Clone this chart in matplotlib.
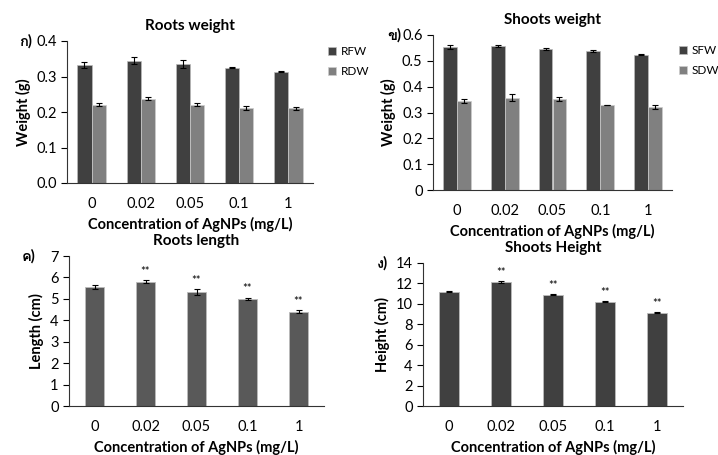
import numpy as np
import matplotlib
matplotlib.use("Agg")
import matplotlib.pyplot as plt
from matplotlib import font_manager
from matplotlib.ft2font import FT2Font

# look for any installed font that has Thai glyphs
thai_font = None
for f in font_manager.fontManager.ttflist:
    try:
        if FT2Font(f.fname).get_char_index(ord('ก')):
            thai_font = f.name
            break
    except Exception:
        pass

fams = ['Lato', 'DejaVu Sans']
if thai_font:
    fams = ['Lato', thai_font, 'DejaVu Sans']
plt.rcParams['font.family'] = fams

conc = ['0', '0.02', '0.05', '0.1', '1']

# roots weight
rfw = [0.333, 0.345, 0.335, 0.325, 0.314]
rfw_err = [0.008, 0.010, 0.012, 0.002, 0.002]
rdw = [0.221, 0.238, 0.221, 0.212, 0.210]
rdw_err = [0.005, 0.003, 0.004, 0.005, 0.004]

# shoots weight
sfw = [0.553, 0.558, 0.545, 0.538, 0.523]
sfw_err = [0.007, 0.003, 0.003, 0.003, 0.002]
sdw = [0.345, 0.358, 0.352, 0.329, 0.320]
sdw_err = [0.009, 0.012, 0.009, 0.001, 0.008]

# roots length / shoots height
rlen = [5.55, 5.80, 5.32, 5.00, 4.40]
rlen_err = [0.10, 0.07, 0.12, 0.06, 0.07]
sh = [11.2, 12.1, 10.9, 10.2, 9.15]
sh_err = [0.06, 0.10, 0.08, 0.06, 0.07]
stars = ['', '**', '**', '**', '**']

dark = '#404040'
light = '#808080'
mid = '#595959'

fig = plt.figure(figsize=(7.18, 4.55), dpi=100)
W, H = 718, 455


def make_ax(l, t, r, b):
    return fig.add_axes([l / W, 1 - b / H, (r - l) / W, (b - t) / H])


def style(ax, title, ylabel, letter, lx, ylim, ticks, fmt):
    ax.set_xlim(-0.5, 4.5)
    ax.set_ylim(*ylim)
    ax.set_yticks(ticks)
    ax.set_yticklabels([fmt.format(t) for t in ticks])
    ax.set_xticks(np.arange(5))
    ax.set_xticklabels(conc)
    ax.tick_params(axis='x', length=0, pad=10, labelsize=10.5)
    ax.tick_params(axis='y', length=4, direction='out', labelsize=10.5, width=0.8)
    for s in ['top', 'right']:
        ax.spines[s].set_visible(False)
    ax.spines['left'].set_color('#333333')
    ax.spines['bottom'].set_color('#333333')
    ax.set_title(title, fontweight='bold', fontsize=11, pad=8)
    ax.set_ylabel(ylabel, fontweight='bold', fontsize=10.5)
    ax.set_xlabel('Concentration of AgNPs (mg/L)', fontweight='bold', fontsize=10.5, labelpad=4)
    ax.text(lx, 1.0, letter, transform=ax.transAxes, fontsize=10.5, fontweight='bold',
            ha='center', va='center')


ek = dict(ecolor='black', capsize=2, elinewidth=0.8, capthick=0.8)
x = np.arange(5)
bw = 0.29
leg_kw = dict(loc='upper left', frameon=False, fontsize=8.5, borderpad=0, borderaxespad=0,
              handlelength=0.7, handleheight=0.7, handletextpad=0.35, labelspacing=0.75)

# A
ax = make_ax(67, 41, 313, 183)
ax.bar(x - bw / 2, rfw, bw, yerr=rfw_err, color=dark, edgecolor='#bbbbbb', linewidth=0.5, label='RFW', error_kw=ek)
ax.bar(x + bw / 2, rdw, bw, yerr=rdw_err, color=light, edgecolor='#cccccc', linewidth=0.5, label='RDW', error_kw=ek)
style(ax, 'Roots weight', 'Weight (g)', 'ก)', -0.17, (0, 0.4), [0, 0.1, 0.2, 0.3, 0.4], '{:.1f}')
ax.legend(bbox_to_anchor=(1.061, 0.965), **leg_kw)

# B
ax = make_ax(433, 35, 672, 190)
ax.bar(x - bw / 2, sfw, bw, yerr=sfw_err, color=dark, edgecolor='#bbbbbb', linewidth=0.5, label='SFW', error_kw=ek)
ax.bar(x + bw / 2, sdw, bw, yerr=sdw_err, color=light, edgecolor='#cccccc', linewidth=0.5, label='SDW', error_kw=ek)
style(ax, 'Shoots weight', 'Weight (g)', 'ข)', -0.16, (0, 0.6), [0, 0.1, 0.2, 0.3, 0.4, 0.5, 0.6], '{:g}')
ax.legend(bbox_to_anchor=(1.03, 0.935), **leg_kw)

# C
ax = make_ax(69, 256, 324, 406)
ax.bar(x, rlen, 0.39, yerr=rlen_err, color=mid, edgecolor='#bbbbbb', linewidth=0.6, error_kw=ek)
for xi, v, e, s in zip(x, rlen, rlen_err, stars):
    ax.text(xi, v + e + 0.15, s, ha='center', va='bottom', fontsize=8)
style(ax, 'Roots length', 'Length (cm)', 'ค)', -0.157, (0, 7), list(range(8)), '{:d}')

# D
ax = make_ax(423, 263, 683, 406)
ax.bar(x, sh, 0.39, yerr=sh_err, color=dark, edgecolor='#bbbbbb', linewidth=0.6, error_kw=ek)
for xi, v, e, s in zip(x, sh, sh_err, stars):
    ax.text(xi, v + e + 0.3, s, ha='center', va='bottom', fontsize=8)
style(ax, 'Shoots Height', 'Height (cm)', 'ง)', -0.154, (0, 14), list(range(0, 15, 2)), '{:d}')

fig.savefig('out.png', dpi=100)
